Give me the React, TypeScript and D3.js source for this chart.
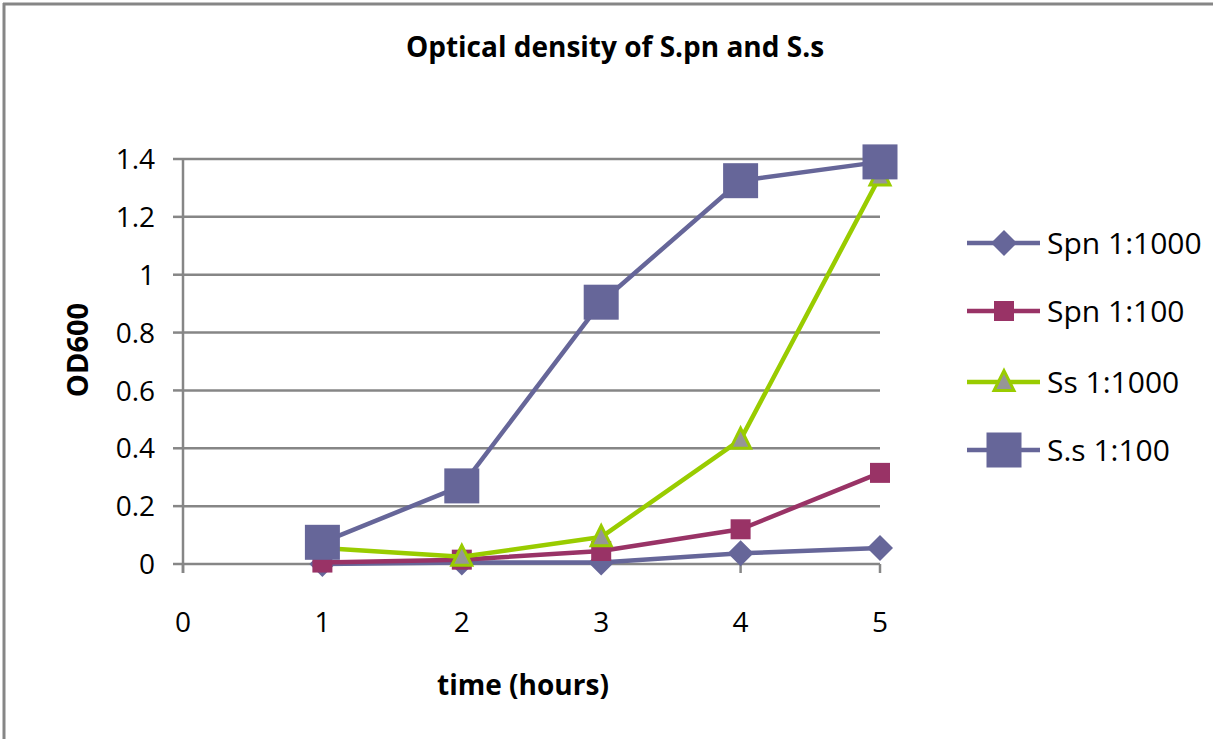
import React from "react";
import * as d3 from "d3";

const hours = [1, 2, 3, 4, 5];
const spn1000 = [0.0, 0.005, 0.005, 0.037, 0.055];
const spn100 = [0.005, 0.015, 0.045, 0.12, 0.315];
const ss1000 = [0.055, 0.025, 0.093, 0.43, 1.34];
const ss100 = [0.075, 0.27, 0.905, 1.325, 1.39];
const xTicks = [0, 1, 2, 3, 4, 5];
const yTicks = [0, 0.2, 0.4, 0.6, 0.8, 1, 1.2, 1.4];
const seriesNames = ["Spn 1:1000", "Spn 1:100", "Ss 1:1000", "S.s 1:100"];

const FONT = "'Open Sans', sans-serif";

type Marker = "diamond" | "square" | "triangle" | "bigsquare";
const styles: { color: string; marker: Marker; fill: string; stroke?: string }[] = [
  { color: "#666699", marker: "diamond", fill: "#666699" },
  { color: "#993366", marker: "square", fill: "#993366" },
  { color: "#99CC00", marker: "triangle", fill: "#969696", stroke: "#99CC00" },
  { color: "#666699", marker: "bigsquare", fill: "#666699" },
];

function MarkerShape({ kind, x, y, fill, stroke }: { kind: Marker; x: number; y: number; fill: string; stroke?: string }) {
  if (kind === "diamond") {
    const r = 13;
    return <path d={`M${x},${y - r}L${x + r},${y}L${x},${y + r}L${x - r},${y}Z`} fill={fill} />;
  }
  if (kind === "square") {
    const s = 20;
    return <rect x={x - s / 2} y={y - s / 2} width={s} height={s} fill={fill} />;
  }
  if (kind === "bigsquare") {
    const s = 35;
    return <rect x={x - s / 2} y={y - s / 2} width={s} height={s} fill={fill} />;
  }
  const w = 10, h = 19;
  return (
    <path
      d={`M${x},${y - h * 0.6}L${x + w},${y + h * 0.45}L${x - w},${y + h * 0.45}Z`}
      fill={fill}
      stroke={stroke}
      strokeWidth={3}
      strokeLinejoin="miter"
    />
  );
}

export default function App() {
  const W = 1213, H = 739;
  const x = d3.scaleLinear().domain([0, 5]).range([183, 880]);
  const y = d3.scaleLinear().domain([0, 1.4]).range([564, 159]);
  const data = [spn1000, spn100, ss1000, ss100];
  const line = d3
    .line<number>()
    .x((_, i) => x(hours[i]))
    .y((d) => y(d));

  return (
    <svg width={W} height={H} style={{ position: "absolute", left: 0, top: 0, background: "#fff", overflow: "hidden" }} fontFamily={FONT}>
      <rect x={0} y={0} width={W} height={H} fill="#fff" />
      <line x1={3} x2={W} y1={4} y2={4} stroke="#868686" strokeWidth={3} />
      <line x1={4} x2={4} y1={3} y2={H} stroke="#868686" strokeWidth={3} />
      <text x={615} y={57} textAnchor="middle" fontSize={28} fontWeight="bold" fill="#000">
        Optical density of S.pn and S.s
      </text>
      {/* gridlines */}
      {yTicks.map((t) => (
        <line key={t} x1={x(0)} x2={x(5)} y1={y(t)} y2={y(t)} stroke="#868686" strokeWidth={2.5} />
      ))}
      {/* y axis */}
      <line x1={x(0)} x2={x(0)} y1={y(1.4)} y2={y(0) + 9} stroke="#868686" strokeWidth={2.5} />
      {yTicks.map((t) => (
        <g key={"yt" + t}>
          <line x1={x(0) - 10} x2={x(0)} y1={y(t)} y2={y(t)} stroke="#868686" strokeWidth={2.5} />
          <text x={x(0) - 28} y={y(t)} dy="0.36em" textAnchor="end" fontSize={28} fill="#000">
            {d3.format("")(+t.toFixed(1))}
          </text>
        </g>
      ))}
      {/* x axis ticks */}
      {xTicks.map((t) => (
        <g key={"xt" + t}>
          <line x1={x(t)} x2={x(t)} y1={y(0)} y2={y(0) + 9} stroke="#868686" strokeWidth={2.5} />
          <text x={x(t)} y={y(0) + 58} dy="0.36em" dominantBaseline="auto" textAnchor="middle" fontSize={28} fill="#000">
            {t}
          </text>
        </g>
      ))}
      <text x={523} y={695} textAnchor="middle" fontSize={28} fontWeight="bold" fill="#000">
        time (hours)
      </text>
      <text
        transform={`translate(88,${350}) rotate(-90)`}
        textAnchor="middle"
        fontSize={29}
        fontWeight="bold"
        fill="#000"
      >
        OD600
      </text>
      {/* series */}
      {data.map((vals, si) => (
        <g key={si}>
          <path d={line(vals) || ""} fill="none" stroke={styles[si].color} strokeWidth={4.5} strokeLinejoin="round" />
          {vals.map((v, i) => (
            <MarkerShape key={i} kind={styles[si].marker} x={x(hours[i])} y={y(v)} fill={styles[si].fill} stroke={styles[si].stroke} />
          ))}
        </g>
      ))}
      {/* legend */}
      {seriesNames.map((name, i) => {
        const ly = [243, 311, 382, 450][i];
        return (
          <g key={name}>
            <line x1={967} x2={1040} y1={ly} y2={ly} stroke={styles[i].color} strokeWidth={4.5} />
            <MarkerShape kind={styles[i].marker} x={1004} y={ly} fill={styles[i].fill} stroke={styles[i].stroke} />
            <text x={1047} y={ly} dy="0.36em" fontSize={30} fill="#000">
              {name}
            </text>
          </g>
        );
      })}
    </svg>
  );
}
